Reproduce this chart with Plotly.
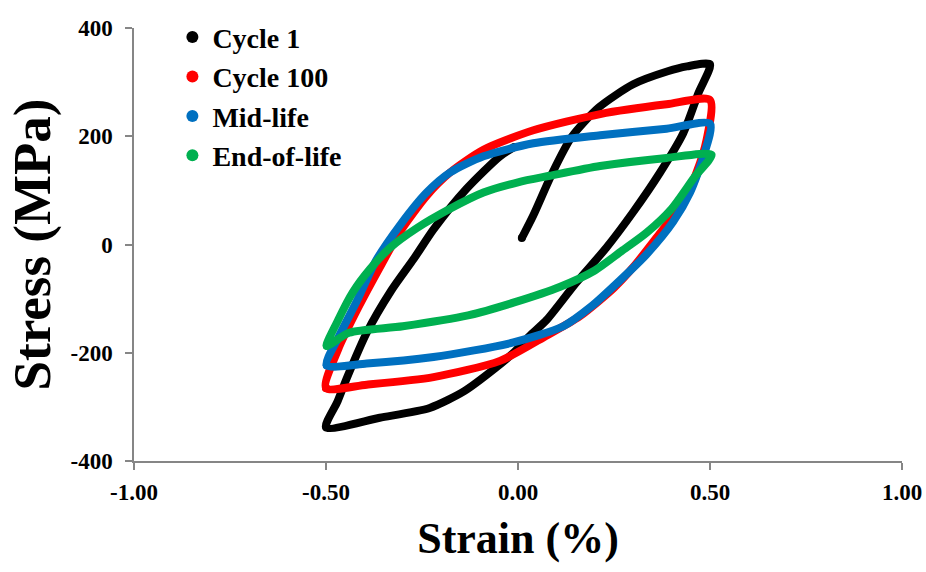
import plotly.graph_objects as go

# --- data (strain in %, stress in MPa) ---
cycle1_strain = [0.01, 0.04, 0.09, 0.14, 0.21, 0.30, 0.39, 0.44, 0.50,
                 0.47, 0.43, 0.37, 0.30, 0.23, 0.15, 0.075, 0.03, -0.01, -0.06, -0.14, -0.23, -0.36, -0.50,
                 -0.47, -0.446, -0.394, -0.33, -0.27, -0.22, -0.134, -0.047, -0.01]
cycle1_stress = [12, 54, 133, 199, 253, 296, 320, 329, 333,
                 280, 205, 133, 60, -6, -72, -139, -169, -199, -229, -271, -302, -320, -338,
                 -290, -247, -163, -85, -25, 28, 103, 163, 180]

cycle100_strain = [-0.50, -0.468, -0.415, -0.355, -0.307, -0.238, -0.177, -0.09, 0.04, 0.214, 0.387, 0.50,
                   0.491, 0.465, 0.43, 0.36, 0.30, 0.25, 0.16, 0.075, -0.047, -0.22, -0.394, -0.50]
cycle100_stress = [-265, -193, -115, -36, 24, 90, 133, 175, 211, 241, 259, 267,
                   193, 133, 78, 12, -42, -80, -133, -168, -215, -245, -259, -265]

midlife_strain = [-0.498, -0.468, -0.42, -0.37, -0.307, -0.238, -0.177, -0.09, 0.04, 0.214, 0.387, 0.50,
                  0.483, 0.448, 0.404, 0.335, 0.266, 0.19, 0.118, -0.012, -0.22, -0.394, -0.498]
midlife_stress = [-223, -172, -105, -30, 36, 96, 133, 163, 187, 202, 214, 223,
                  163, 96, 42, -18, -66, -115, -151, -181, -208, -220, -223]

endlife_strain = [-0.498, -0.468, -0.43, -0.385, -0.333, -0.264, -0.177, -0.09, 0.0, 0.083, 0.214, 0.387, 0.504,
                  0.46, 0.40, 0.335, 0.27, 0.20, 0.11, -0.01, -0.13, -0.30, -0.44, -0.498]
endlife_stress = [-187, -139, -88, -45, -6, 30, 66, 96, 115, 127, 145, 160, 166,
                  125, 66, 22, -12, -48, -78, -107, -131, -151, -163, -187]

series_names = ["Cycle 1", "Cycle 100", "Mid-life", "End-of-life"]
series_colors = ["#000000", "#FF0000", "#0070C0", "#00B050"]

x_ticks = [-1.0, -0.5, 0.0, 0.5, 1.0]
x_tick_labels = ["-1.00", "-0.50", "0.00", "0.50", "1.00"]
y_ticks = [-400, -200, 0, 200, 400]
y_tick_labels = ["-400", "-200", "0", "200", "400"]

FONT = "Liberation Serif"
AXIS_GRAY = "#868686"

fig = go.Figure()

data = [(cycle1_strain, cycle1_stress), (cycle100_strain, cycle100_stress),
        (midlife_strain, midlife_stress), (endlife_strain, endlife_stress)]

# the loops themselves (thick smoothed lines)
for (xs, ys), color in zip(data, series_colors):
    fig.add_trace(go.Scatter(
        x=xs, y=ys, mode='lines',
        line=dict(color=color, width=8, shape='spline', smoothing=0.7),
        showlegend=False, hoverinfo='skip'
    ))
    # round ends / corners
    fig.add_trace(go.Scatter(
        x=[xs[0], xs[-1]], y=[ys[0], ys[-1]], mode='markers',
        marker=dict(color=color, size=8, line=dict(width=0)),
        showlegend=False, hoverinfo='skip'
    ))

# legend entries with round markers, like the original
for name, color in zip(series_names, series_colors):
    fig.add_trace(go.Scatter(
        x=[None], y=[None], mode='markers', name=name,
        marker=dict(color=color, size=11)
    ))

fig.update_layout(
    width=926, height=572,
    plot_bgcolor='white', paper_bgcolor='white',
    font=dict(family=FONT, color='#000000'),
    margin=dict(l=134, r=24, t=19, b=111),
    showlegend=True,
    legend=dict(
        x=0.05, y=1.036, xanchor='left', yanchor='top',
        font=dict(family=FONT, size=28, weight='bold', color='#000000'),
        bgcolor='rgba(0,0,0,0)', tracegroupgap=0,
        itemsizing='constant'
    ),
    xaxis=dict(
        range=[-1, 1], tickvals=x_ticks, ticktext=x_tick_labels,
        showgrid=False, zeroline=False, automargin=False,
        showline=True, linecolor=AXIS_GRAY, linewidth=1.5,
        ticks='outside', ticklen=7, tickcolor=AXIS_GRAY, tickwidth=1.5,
        ticklabelstandoff=3, ticklabeloverflow='allow',
        tickfont=dict(family=FONT, size=23, weight='bold'),
        title=dict(text="Strain (%)", font=dict(family=FONT, size=44, weight='bold'), standoff=18),
    ),
    yaxis=dict(
        range=[-400, 400], tickvals=y_ticks, ticktext=y_tick_labels,
        showgrid=False, zeroline=False, automargin=False,
        showline=True, linecolor=AXIS_GRAY, linewidth=1.5,
        ticks='outside', ticklen=7, tickcolor=AXIS_GRAY, tickwidth=1.5,
        ticklabelstandoff=8, ticklabeloverflow='allow',
        tickfont=dict(family=FONT, size=23, weight='bold'),
        title=dict(text="Stress (MPa)", font=dict(family=FONT, size=53, weight='bold'), standoff=3),
    ),
)

# drop the default 8px page margin so the figure fills the window exactly
fig.write_html("out.html", config={'displayModeBar': False},
               post_script="document.body.style.margin='0';")
